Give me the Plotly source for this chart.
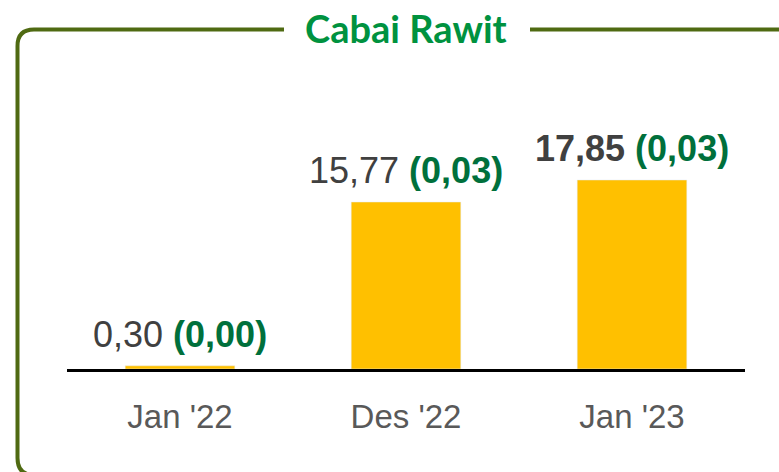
import plotly.graph_objects as go

W, H = 779, 472

categories = ["Jan '22", "Des '22", "Jan '23"]
values = [0.30, 15.77, 17.85]
value_labels = ["0,30", "15,77", "17,85"]
change_labels = ["(0,00)", "(0,03)", "(0,03)"]
bold_value = [False, False, True]

BAR_COLOR = "#FFC000"
FRAME_COLOR = "#4F6A12"
TITLE_COLOR = "#00923F"
GREEN = "#00703C"
GREY = "#404040"
NARROW = "Liberation Sans Narrow, Arial Narrow, Liberation Sans, sans-serif"


def px(x):
    return x / W


def py(y):
    return 1 - y / H


def frame_path(points):
    """Build an SVG path in paper coords from pixel commands."""
    out = []
    for cmd, *coords in points:
        pairs = [f"{px(coords[i])},{py(coords[i + 1])}" for i in range(0, len(coords), 2)]
        out.append(cmd + " " + " ".join(pairs))
    return " ".join(out)


fig = go.Figure(
    go.Bar(
        x=categories,
        y=values,
        marker_color=BAR_COLOR,
        width=0.485,
        hoverinfo="skip",
    )
)

for cat, val, vlab, clab, bold in zip(categories, values, value_labels, change_labels, bold_value):
    head = f"<b>{vlab}</b>" if bold else vlab
    fig.add_annotation(
        x=cat,
        y=val,
        text=f"{head} <b><span style='color:{GREEN}'>{clab}</span></b>",
        showarrow=False,
        yanchor="bottom",
        yshift=9,
        font=dict(family=NARROW, size=36, color=GREY),
    )

fig.add_annotation(
    x=px(405.5),
    y=py(28),
    xref="paper",
    yref="paper",
    text="<b>Cabai Rawit</b>",
    showarrow=False,
    xanchor="center",
    yanchor="middle",
    font=dict(family="Lato, sans-serif", size=38, color=TITLE_COLOR),
)

fig.add_shape(
    type="path",
    xref="paper",
    yref="paper",
    path=frame_path([
        ("M", 284, 29.5),
        ("L", 34, 29.5),
        ("Q", 17.5, 29.5, 17.5, 46),
        ("L", 17.5, 458),
        ("Q", 17.5, 475, 34, 475),
        ("L", 800, 475),
    ]),
    line=dict(color=FRAME_COLOR, width=4),
)
fig.add_shape(
    type="line",
    xref="paper",
    yref="paper",
    x0=px(530), x1=px(800), y0=py(29.5), y1=py(29.5),
    line=dict(color=FRAME_COLOR, width=4),
)

fig.update_layout(
    width=W,
    height=H,
    margin=dict(l=0, r=0, t=0, b=0),
    paper_bgcolor="white",
    plot_bgcolor="white",
    showlegend=False,
    xaxis=dict(
        domain=[px(67), px(745)],
        range=[-0.5, 2.5],
        showline=True,
        linecolor="black",
        linewidth=3,
        ticks="",
        showgrid=False,
        tickfont=dict(family=NARROW, size=33, color="#595959"),
        ticklabelstandoff=16,
    ),
    yaxis=dict(
        domain=[py(369), py(40)],
        range=[0, 31.07],
        visible=False,
    ),
)

fig.write_html(
    "out.html",
    config={"displayModeBar": False},
    post_script="document.body.style.margin='0';",
)
